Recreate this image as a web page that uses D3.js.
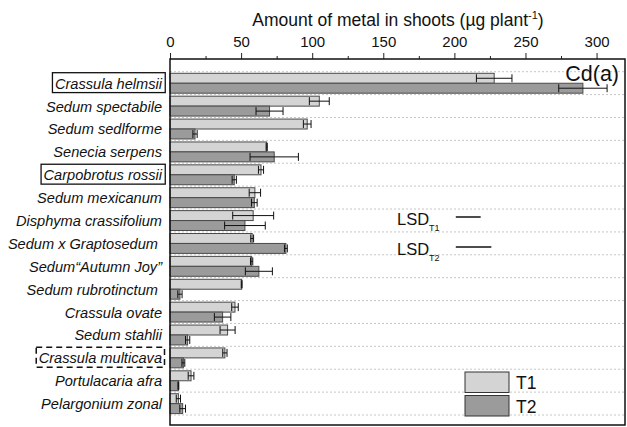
<!DOCTYPE html>
<html>
<head>
<meta charset="utf-8">
<script src="https://cdnjs.cloudflare.com/ajax/libs/d3/7.8.5/d3.min.js"></script>
<style>
  html, body { margin: 0; padding: 0; background: #fff; }
  svg { display: block; font-family: "Liberation Sans", Arial, sans-serif; }
</style>
</head>
<body>
<svg id="chart" width="627" height="427"></svg>
<script>
// Species shown down the chart, top to bottom
const species = [
  "Crassula helmsii", "Sedum spectabile", "Sedum sedlforme", "Senecia serpens",
  "Carpobrotus rossii", "Sedum mexicanum", "Disphyma crassifolium",
  "Sedum x Graptosedum ", "Sedum\u201cAutumn Joy\u201d", "Sedum rubrotinctum ",
  "Crassula ovate", "Sedum stahlii", "Crassula multicava", "Portulacaria afra",
  "Pelargonium zonal"
];
// Cd in shoots (µg plant-1), treatment T1 and T2, with standard errors
const t1Values = [228, 105, 96.5, 68, 64, 59.7, 58.5, 57.8, 57.4, 50.4, 45.7, 40.5, 38.6, 14.8, 5.9];
const t1Errors = [12.5, 7, 2.7, 0.4, 1.8, 4, 14.4, 1, 0.8, 0.3, 2.3, 5.3, 1.5, 2, 1.5];
const t2Values = [290.4, 70, 17.6, 73.3, 45.2, 59.3, 52.7, 81.5, 62.5, 7, 37, 12.4, 9.4, 5.9, 8.9];
const t2Errors = [17, 9.5, 1.5, 17, 1.5, 2, 14.3, 1, 9.5, 1.5, 5.8, 1.5, 1, 0.3, 2];
const treatments = ["T1", "T2"];
const xTicks = [0, 50, 100, 150, 200, 250, 300];
// Least significant difference bars for each treatment
const lsdValues = [17.5, 25];
// Species marked with a box: solid or dashed outline
const boxedSolid = ["Crassula helmsii", "Carpobrotus rossii"];
const boxedDashed = ["Crassula multicava"];

const fills = { T1: "#d4d4d4", T2: "#9b9b9b" };

const svg = d3.select("#chart");
const plot = { left: 170, right: 625, top: 59, bottom: 425 };

const x = d3.scaleLinear().domain([0, 320]).range([plot.left, plot.right]);
const y = d3.scaleBand().domain(species).range([71.7, 415]).padding(0);
const inner = d3.scaleBand().domain(treatments).range([1.6, y.bandwidth() - 1.4]).padding(0);

const rows = species.map((s, i) => ({
  name: s,
  T1: { v: t1Values[i], e: t1Errors[i] },
  T2: { v: t2Values[i], e: t2Errors[i] }
}));

// Dotted row separators
const gridYs = species.map(s => y(s)).concat([y.range()[1]]);
svg.append("g").selectAll("line").data(gridYs).join("line")
  .attr("x1", plot.left).attr("x2", plot.right)
  .attr("y1", d => d).attr("y2", d => d)
  .attr("stroke", "#b8b8b8").attr("stroke-width", 0.8)
  .attr("stroke-dasharray", "2,2");

// Top axis with major and minor ticks
const axis = d3.axisTop(x).tickValues(xTicks).tickSize(6).tickPadding(6).tickFormat(d3.format("d"));
const gAxis = svg.append("g").attr("transform", `translate(0,${plot.top})`).call(axis);
gAxis.select(".domain").remove();
gAxis.selectAll(".tick line").attr("stroke", "#222").attr("stroke-width", 1);
gAxis.selectAll(".tick text").attr("font-size", 15).attr("fill", "#111")
  .attr("font-family", "'Liberation Sans', Arial, sans-serif");
const minor = d3.axisTop(x).tickValues(d3.range(25, 320, 50)).tickSize(3).tickFormat("");
const gMinor = svg.append("g").attr("transform", `translate(0,${plot.top})`).call(minor);
gMinor.select(".domain").remove();
gMinor.selectAll(".tick line").attr("stroke", "#222");

// Axis title
const title = svg.append("text").attr("x", 398).attr("y", 26)
  .attr("text-anchor", "middle").attr("font-size", 17.5).attr("fill", "#111");
title.append("tspan").text("Amount of metal in shoots (\u00b5g plant");
title.append("tspan").attr("dy", -7).attr("font-size", 11).text("-1");
title.append("tspan").attr("dy", 7).text(")");

// Bars
const gRows = svg.append("g").selectAll("g").data(rows).join("g")
  .attr("transform", d => `translate(0,${y(d.name)})`);
treatments.forEach(t => {
  gRows.append("rect")
    .attr("x", x(0))
    .attr("y", inner(t))
    .attr("width", d => x(d[t].v) - x(0))
    .attr("height", inner.bandwidth())
    .attr("fill", fills[t])
    .attr("stroke", "#4a4a4a").attr("stroke-width", 1);
  // error bars
  const eb = gRows.append("g").attr("stroke", "#111").attr("stroke-width", 1);
  const cy = inner(t) + inner.bandwidth() / 2;
  eb.append("line")
    .attr("x1", d => x(d[t].v - d[t].e)).attr("x2", d => x(d[t].v + d[t].e))
    .attr("y1", cy).attr("y2", cy);
  eb.append("line")
    .attr("x1", d => x(d[t].v - d[t].e)).attr("x2", d => x(d[t].v - d[t].e))
    .attr("y1", cy - 4).attr("y2", cy + 4);
  eb.append("line")
    .attr("x1", d => x(d[t].v + d[t].e)).attr("x2", d => x(d[t].v + d[t].e))
    .attr("y1", cy - 4).attr("y2", cy + 4);
});

// Species labels
const labels = svg.append("g").selectAll("text").data(species).join("text")
  .attr("x", 162)
  .attr("y", d => y(d) + y.bandwidth() / 2 + 5.5)
  .attr("text-anchor", "end")
  .attr("font-size", 14.6).attr("font-style", "italic").attr("fill", "#111")
  .attr("xml:space", "preserve")
  .text(d => d);

// Outline boxes around highlighted species
labels.each(function (d) {
  const solid = boxedSolid.includes(d), dashed = boxedDashed.includes(d);
  if (!solid && !dashed) return;
  const b = this.getBBox();
  svg.append("rect")
    .attr("x", b.x - 2.5).attr("y", y(d) + 1)
    .attr("width", b.width + 5).attr("height", y.bandwidth() - 3)
    .attr("fill", "none").attr("stroke", "#111")
    .attr("stroke-width", solid ? 1.3 : 1.5)
    .attr("stroke-dasharray", dashed ? "6,4" : null);
});

// Plot frame
svg.append("rect")
  .attr("x", plot.left).attr("y", plot.top)
  .attr("width", plot.right - plot.left).attr("height", plot.bottom - plot.top)
  .attr("fill", "none").attr("stroke", "#111").attr("stroke-width", 1.5);

// Panel label
svg.append("text").attr("x", 619).attr("y", 81).attr("text-anchor", "end")
  .attr("font-size", 21.5).attr("fill", "#111").text("Cd(a)");

// LSD markers
lsdValues.forEach((v, i) => {
  const yy = 217 + i * 30;
  const tx = svg.append("text").attr("x", 397).attr("y", yy + 8)
    .attr("font-size", 16.5).attr("fill", "#111");
  tx.append("tspan").text("LSD");
  tx.append("tspan").attr("dy", 6).attr("font-size", 9).text(treatments[i]);
  svg.append("line")
    .attr("x1", x(201)).attr("x2", x(201 + v))
    .attr("y1", yy).attr("y2", yy)
    .attr("stroke", "#111").attr("stroke-width", 1.5);
});

// Legend
const legend = svg.append("g").attr("transform", "translate(465,372)");
treatments.forEach((t, i) => {
  legend.append("rect").attr("x", 0).attr("y", i * 23.5)
    .attr("width", 44).attr("height", 20.5)
    .attr("fill", fills[t]).attr("stroke", "#333").attr("stroke-width", 1);
  legend.append("text").attr("x", 51).attr("y", i * 23.5 + 17)
    .attr("font-size", 17.5).attr("fill", "#111").text(t);
});
</script>
</body>
</html>
